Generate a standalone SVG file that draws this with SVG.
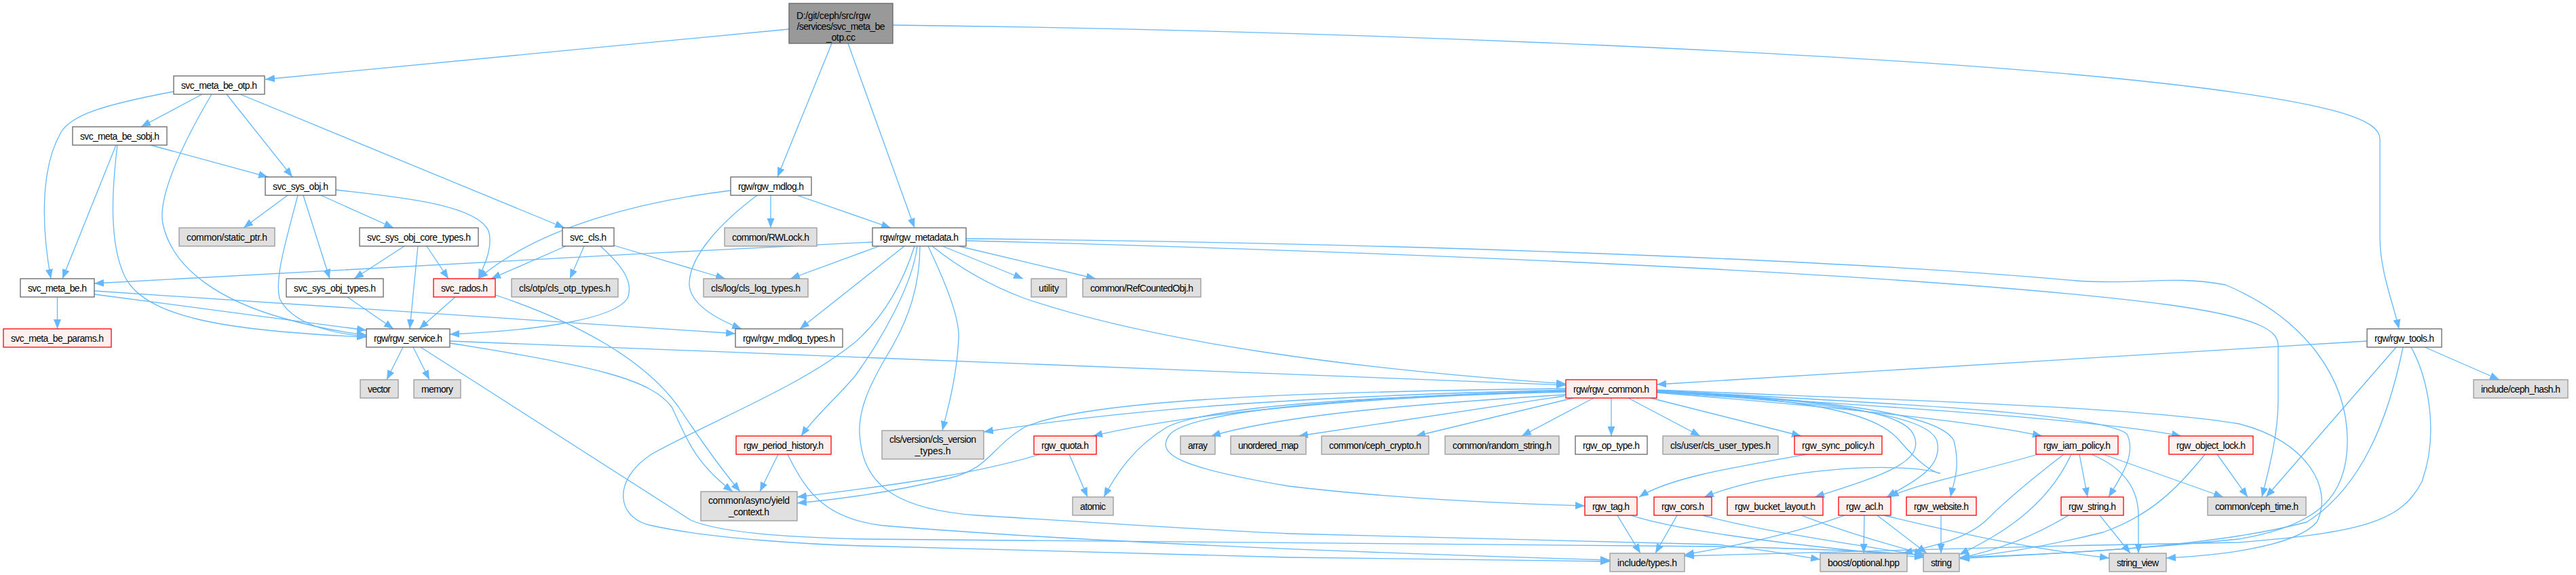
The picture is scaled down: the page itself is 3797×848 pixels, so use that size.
<svg xmlns="http://www.w3.org/2000/svg" width="3797" height="848" viewBox="0 0 3797 848">
<defs>
<marker id="ah" markerUnits="userSpaceOnUse" markerWidth="15" markerHeight="11" refX="14" refY="5.5" orient="auto"><path d="M0,0 L14,5.5 L0,11 Z" fill="#63b8ff"/></marker>
<style>
rect{stroke-width:1.3}
.w{fill:#ffffff;stroke:#666666}
.g{fill:#e0e0e0;stroke:#999999}
.r{fill:#fff0f0;stroke:#ff0000}
.root{fill:#999999;stroke:#666666}
text{font-family:"Liberation Sans",Arial,Helvetica,sans-serif;font-size:14px;fill:#000000;text-anchor:middle}
#edges path{fill:none;stroke:#63b8ff;stroke-width:1.3;marker-end:url(#ah)}
</style>
</defs>
<rect x="0" y="0" width="3797" height="848" fill="#ffffff"/>
<g id="edges">
<path d="M1163,43 L391,117"/>
<path d="M1226,64 L1146,261"/>
<path d="M1250,64 L1348,336"/>
<path d="M1316,37 C2000,45 2800,80 3180,122 C3450,152 3508,178 3508,205 L3508,350 C3508,400 3527,445 3536,485"/>
<path d="M298,139 L208,187"/>
<path d="M256,135 C150,155 105,170 90,195 C58,250 62,340 75,411"/>
<path d="M312,139 C270,210 232,290 240,330 C255,400 330,445 420,470 C470,484 505,490 540,494"/>
<path d="M334,139 L431,261"/>
<path d="M354,139 L832,336"/>
<path d="M171,214 L92,411"/>
<path d="M173,214 C165,280 160,360 185,410 C215,465 320,488 540,497"/>
<path d="M222,214 L395,261"/>
<path d="M424,288 L359,336"/>
<path d="M439,288 C420,360 405,410 412,440 C430,478 490,492 540,496"/>
<path d="M447,288 L486,411"/>
<path d="M473,288 L580,336"/>
<path d="M495,280 C580,290 700,300 720,340 C728,365 712,395 705,411"/>
<path d="M596,363 L522,411"/>
<path d="M616,363 L604,485"/>
<path d="M629,363 L661,411"/>
<path d="M512,438 L580,485"/>
<path d="M834,363 L724,411"/>
<path d="M861,363 L840,411"/>
<path d="M885,363 C915,390 935,415 925,440 C905,470 800,487 663,493"/>
<path d="M905,362 L1069,411"/>
<path d="M671,438 L618,485"/>
<path d="M730,435 C850,475 950,530 1000,600 C1040,660 1070,700 1091,725"/>
<path d="M1077,281 C960,295 800,330 705,411"/>
<path d="M1136,288 L1136,336"/>
<path d="M1116,288 C1060,330 1015,380 1016,420 C1018,450 1060,472 1093,485"/>
<path d="M1175,288 L1313,336"/>
<path d="M84.5,438 L84.5,485"/>
<path d="M139,434 L540,487"/>
<path d="M139,429 L1084,492"/>
<path d="M594,512 L570,560"/>
<path d="M609,512 L633,560"/>
<path d="M663,503 L2308,568"/>
<path d="M663,506 C880,540 960,560 990,600 C1010,640 1020,680 1080,725"/>
<path d="M620,512 L1018,767 C1060,785 1150,792 1270,795 L2530,806 C2700,810 2790,815 2836,819"/>
<path d="M1286,357 C900,375 500,400 139,418"/>
<path d="M1296,363 L1165,411"/>
<path d="M1333,363 L1179,485"/>
<path d="M1348,363 C1330,420 1300,470 1260,505 C1180,570 1050,620 960,670 C900,710 910,765 960,775 C1050,795 1200,803 1270,805 L1900,822 L2373,828"/>
<path d="M1352,363 C1345,420 1300,500 1260,555 C1230,590 1200,615 1181,643"/>
<path d="M1368,363 C1395,420 1415,470 1413,500 C1410,560 1395,610 1389,635"/>
<path d="M1374,363 C1420,400 1470,425 1510,440 C1700,505 2000,545 2308,566"/>
<path d="M1389,363 L1508,411"/>
<path d="M1413,363 L1615,411"/>
<path d="M1424,355 C2200,375 2900,410 3200,450 C3340,470 3358,490 3358,510 L3358,590 C3358,640 3345,690 3334,733"/>
<path d="M1356,363 C1356,420 1340,470 1310,520 C1280,570 1262,610 1268,650 C1275,720 1330,752 1440,760 C1700,776 1800,783 1900,787 L2530,803 C2600,810 2650,820 2683,825"/>
<path d="M1424,352 C2200,360 2800,390 3060,414 C3150,421 3200,405 3280,420 C3400,470 3460,560 3460,650 C3460,730 3420,775 3300,795 C3100,815 2950,820 2889,824"/>
<path d="M1147,670 L1120,725"/>
<path d="M1161,670 C1190,730 1220,765 1300,775 C1600,800 2000,815 2373,826"/>
<path d="M3489,503 L2442,567"/>
<path d="M3532,512 L3340,733"/>
<path d="M3542,512 C3520,620 3480,720 3400,770 C3250,810 3000,818 2889,822"/>
<path d="M3554,512 C3580,560 3595,640 3570,710 C3540,770 3480,785 3300,800 C3000,805 2600,815 2483,820"/>
<path d="M3574,512 L3684,560"/>
<path d="M2308,575 C1900,585 1650,605 1450,637"/>
<path d="M2308,578 C2000,585 1750,610 1611,643"/>
<path d="M2308,577 C2000,585 1780,600 1720,630 C1670,660 1645,700 1627,733"/>
<path d="M2308,582 C2100,595 1900,610 1785,643"/>
<path d="M2306,584 L1914,643"/>
<path d="M2319,587 L2087,643"/>
<path d="M2349,587 L2243,643"/>
<path d="M2375,587 L2375,643"/>
<path d="M2400,587 L2506,643"/>
<path d="M2433,587 L2655,643"/>
<path d="M2308,576 C2000,585 1760,605 1725,640 C1700,670 1740,690 1900,717 C2050,735 2200,742 2336,746"/>
<path d="M2442,577 C2700,590 2770,615 2800,650 C2830,685 2850,697 2860,698 C2800,680 2620,690 2512,733"/>
<path d="M2442,576 C2650,590 2800,600 2820,640 C2840,680 2780,700 2675,733"/>
<path d="M2442,578 C2700,595 2840,610 2855,650 C2865,690 2820,710 2781,733"/>
<path d="M2442,576 C2700,590 2860,610 2880,650 C2890,690 2880,710 2875,733"/>
<path d="M2442,579 C2700,600 2900,620 3010,643"/>
<path d="M2442,576 C2800,595 3100,610 3135,640 C3150,670 3125,705 3108,733"/>
<path d="M2442,578 C2800,600 3100,620 3215,643"/>
<path d="M2442,575 C2800,590 3150,600 3300,625 C3400,650 3440,720 3415,770 C3380,810 3250,820 3193,823"/>
<path d="M2308,573 C1900,578 1600,590 1510,630 C1460,660 1460,690 1400,705 C1320,725 1250,735 1175,742"/>
<path d="M1533,670 C1450,695 1350,712 1175,733"/>
<path d="M1576,670 L1603,733"/>
<path d="M2663,670 C2550,690 2460,705 2416,733"/>
<path d="M3004,670 C2900,700 2820,715 2785,733"/>
<path d="M3042,670 C2990,710 2955,740 2930,765 C2900,795 2850,805 2805,816"/>
<path d="M3053,670 C3030,720 2990,760 2940,790 C2915,805 2900,812 2888,818"/>
<path d="M3065,670 L3077,733"/>
<path d="M3083,670 C3130,690 3152,720 3152,760 L3152,816"/>
<path d="M3100,670 L3277,733"/>
<path d="M3268,670 L3313,733"/>
<path d="M3250,670 C3210,720 3170,760 3100,785 C3000,810 2930,818 2889,823"/>
<path d="M3049,760 C3000,790 2950,810 2889,823"/>
<path d="M3095,760 L3140,816"/>
<path d="M2861,760 L2861,816"/>
<path d="M2719,760 C2650,785 2560,805 2483,818"/>
<path d="M2748,760 L2747,816"/>
<path d="M2767,760 L2840,816"/>
<path d="M2777,760 C2900,790 3000,810 3109,823"/>
<path d="M2655,760 C2720,785 2790,805 2836,817"/>
<path d="M2472,760 L2440,816"/>
<path d="M2510,760 C2600,785 2750,805 2836,820"/>
<path d="M2384,760 L2418,816"/>
<path d="M2404,760 C2480,785 2650,805 2836,822"/>
</g>
<g id="n_root"><rect class="root" x="1163" y="5" width="153" height="59"/><text x="1174" y="28" style="text-anchor:start" textLength="109">D:/git/ceph/src/rgw</text><text x="1239.5" y="44" textLength="130">/services/svc_meta_be</text><text x="1239.5" y="60" textLength="43">_otp.cc</text></g>
<g id="n_otp"><rect class="w" x="256" y="112" width="134" height="27"/><text x="323" y="130.5" textLength="112">svc_meta_be_otp.h</text></g>
<g id="n_sobj"><rect class="w" x="107" y="187" width="139" height="27"/><text x="176.5" y="205.5" textLength="117">svc_meta_be_sobj.h</text></g>
<g id="n_sysobj"><rect class="w" x="391" y="261" width="104" height="27"/><text x="443" y="279.5" textLength="82">svc_sys_obj.h</text></g>
<g id="n_mdlog"><rect class="w" x="1077" y="261" width="119" height="27"/><text x="1136.5" y="279.5" textLength="97">rgw/rgw_mdlog.h</text></g>
<g id="n_staticptr"><rect class="g" x="264" y="336" width="141" height="27"/><text x="334.5" y="354.5" textLength="119">common/static_ptr.h</text></g>
<g id="n_coretypes"><rect class="w" x="530" y="336" width="175" height="27"/><text x="617.5" y="354.5" textLength="153">svc_sys_obj_core_types.h</text></g>
<g id="n_cls"><rect class="w" x="829" y="336" width="76" height="27"/><text x="867" y="354.5" textLength="54">svc_cls.h</text></g>
<g id="n_rwlock"><rect class="g" x="1068" y="336" width="136" height="27"/><text x="1136" y="354.5" textLength="114">common/RWLock.h</text></g>
<g id="n_metadata"><rect class="w" x="1286" y="336" width="138" height="27"/><text x="1355" y="354.5" textLength="116">rgw/rgw_metadata.h</text></g>
<g id="n_metabe"><rect class="w" x="30" y="411" width="109" height="27"/><text x="84.5" y="429.5" textLength="87">svc_meta_be.h</text></g>
<g id="n_sysobjtypes"><rect class="w" x="422" y="411" width="143" height="27"/><text x="493.5" y="429.5" textLength="121">svc_sys_obj_types.h</text></g>
<g id="n_rados"><rect class="r" x="639" y="411" width="91" height="27"/><text x="684.5" y="429.5" textLength="69">svc_rados.h</text></g>
<g id="n_clsotp"><rect class="g" x="754" y="411" width="157" height="27"/><text x="832.5" y="429.5" textLength="135">cls/otp/cls_otp_types.h</text></g>
<g id="n_clslog"><rect class="g" x="1037" y="411" width="154" height="27"/><text x="1114" y="429.5" textLength="132">cls/log/cls_log_types.h</text></g>
<g id="n_utility"><rect class="g" x="1520" y="411" width="52" height="27"/><text x="1546" y="429.5" textLength="30">utility</text></g>
<g id="n_refcounted"><rect class="g" x="1596" y="411" width="174" height="27"/><text x="1683" y="429.5" textLength="152">common/RefCountedObj.h</text></g>
<g id="n_params"><rect class="r" x="5" y="485" width="159" height="27"/><text x="84.5" y="503.5" textLength="137">svc_meta_be_params.h</text></g>
<g id="n_service"><rect class="w" x="540" y="485" width="123" height="27"/><text x="601.5" y="503.5" textLength="101">rgw/rgw_service.h</text></g>
<g id="n_mdlogtypes"><rect class="w" x="1084" y="485" width="158" height="27"/><text x="1163" y="503.5" textLength="136">rgw/rgw_mdlog_types.h</text></g>
<g id="n_tools"><rect class="w" x="3489" y="485" width="110" height="27"/><text x="3544" y="503.5" textLength="88">rgw/rgw_tools.h</text></g>
<g id="n_vector"><rect class="g" x="531" y="560" width="56" height="27"/><text x="559" y="578.5" textLength="34">vector</text></g>
<g id="n_memory"><rect class="g" x="610" y="560" width="69" height="27"/><text x="644.5" y="578.5" textLength="47">memory</text></g>
<g id="n_common"><rect class="r" x="2308" y="560" width="134" height="27"/><text x="2375" y="578.5" textLength="112">rgw/rgw_common.h</text></g>
<g id="n_cephhash"><rect class="g" x="3646" y="560" width="139" height="27"/><text x="3715.5" y="578.5" textLength="117">include/ceph_hash.h</text></g>
<g id="n_clsversion"><rect class="g" x="1300" y="635" width="150" height="42"/><text x="1375" y="653" textLength="128">cls/version/cls_version</text><text x="1375" y="670">_types.h</text></g>
<g id="n_periodhist"><rect class="r" x="1085" y="643" width="140" height="27"/><text x="1155" y="661.5" textLength="118">rgw_period_history.h</text></g>
<g id="n_quota"><rect class="r" x="1524" y="643" width="92" height="27"/><text x="1570" y="661.5" textLength="70">rgw_quota.h</text></g>
<g id="n_array"><rect class="g" x="1740" y="643" width="51" height="27"/><text x="1765.5" y="661.5" textLength="29">array</text></g>
<g id="n_unordered"><rect class="g" x="1814" y="643" width="111" height="27"/><text x="1869.5" y="661.5" textLength="89">unordered_map</text></g>
<g id="n_crypto"><rect class="g" x="1948" y="643" width="158" height="27"/><text x="2027" y="661.5" textLength="136">common/ceph_crypto.h</text></g>
<g id="n_random"><rect class="g" x="2130" y="643" width="168" height="27"/><text x="2214" y="661.5" textLength="146">common/random_string.h</text></g>
<g id="n_optype"><rect class="w" x="2322" y="643" width="106" height="27"/><text x="2375" y="661.5" textLength="84">rgw_op_type.h</text></g>
<g id="n_clsuser"><rect class="g" x="2451" y="643" width="170" height="27"/><text x="2536" y="661.5" textLength="148">cls/user/cls_user_types.h</text></g>
<g id="n_syncpolicy"><rect class="r" x="2645" y="643" width="129" height="27"/><text x="2709.5" y="661.5" textLength="107">rgw_sync_policy.h</text></g>
<g id="n_iampolicy"><rect class="r" x="3001" y="643" width="121" height="27"/><text x="3061.5" y="661.5" textLength="99">rgw_iam_policy.h</text></g>
<g id="n_objlock"><rect class="r" x="3197" y="643" width="124" height="27"/><text x="3259" y="661.5" textLength="102">rgw_object_lock.h</text></g>
<g id="n_yield"><rect class="g" x="1033" y="725" width="142" height="43"/><text x="1104" y="743" textLength="120">common/async/yield</text><text x="1104" y="760" textLength="60">_context.h</text></g>
<g id="n_atomic"><rect class="g" x="1581" y="733" width="60" height="27"/><text x="1611" y="751.5" textLength="38">atomic</text></g>
<g id="n_tag"><rect class="r" x="2336" y="733" width="77" height="27"/><text x="2374.5" y="751.5" textLength="55">rgw_tag.h</text></g>
<g id="n_cors"><rect class="r" x="2438" y="733" width="85" height="27"/><text x="2480.5" y="751.5" textLength="63">rgw_cors.h</text></g>
<g id="n_bucketlayout"><rect class="r" x="2546" y="733" width="141" height="27"/><text x="2616.5" y="751.5" textLength="119">rgw_bucket_layout.h</text></g>
<g id="n_acl"><rect class="r" x="2710" y="733" width="77" height="27"/><text x="2748.5" y="751.5" textLength="55">rgw_acl.h</text></g>
<g id="n_website"><rect class="r" x="2810" y="733" width="103" height="27"/><text x="2861.5" y="751.5" textLength="81">rgw_website.h</text></g>
<g id="n_rgwstring"><rect class="r" x="3038" y="733" width="92" height="27"/><text x="3084" y="751.5" textLength="70">rgw_string.h</text></g>
<g id="n_cephtime"><rect class="g" x="3254" y="733" width="145" height="27"/><text x="3326.5" y="751.5" textLength="123">common/ceph_time.h</text></g>
<g id="n_types"><rect class="g" x="2373" y="816" width="110" height="27"/><text x="2428" y="834.5" textLength="88">include/types.h</text></g>
<g id="n_boost"><rect class="g" x="2683" y="816" width="128" height="27"/><text x="2747" y="834.5" textLength="106">boost/optional.hpp</text></g>
<g id="n_string"><rect class="g" x="2835" y="816" width="53" height="27"/><text x="2861.5" y="834.5" textLength="31">string</text></g>
<g id="n_stringview"><rect class="g" x="3109" y="816" width="84" height="27"/><text x="3151" y="834.5" textLength="62">string_view</text></g>
</svg>
